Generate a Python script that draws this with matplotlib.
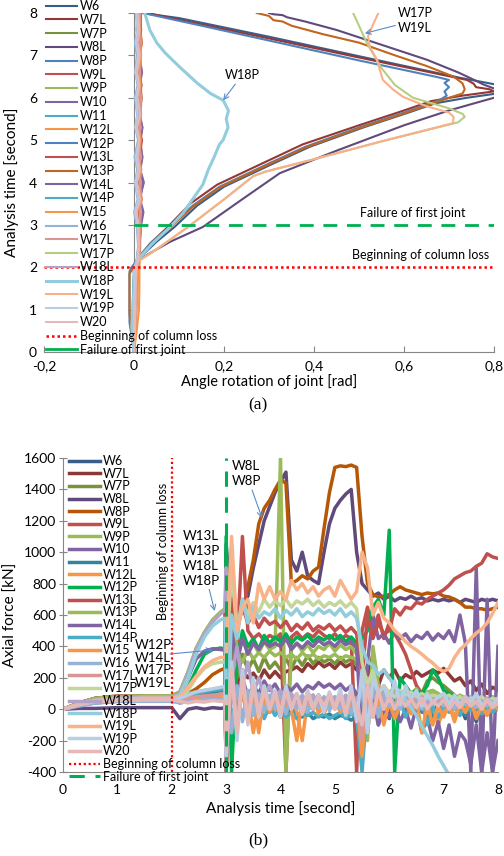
import matplotlib
matplotlib.use("Agg")
import matplotlib.pyplot as plt
from matplotlib.lines import Line2D

plt.rcParams['font.family'] = ['Lato', 'DejaVu Sans']

# ------------------------------------------------------------------ data (a)
series_names = ['W6', 'W7L', 'W7P', 'W8L', 'W8P', 'W9L', 'W9P', 'W10', 'W11', 'W12L',
                'W12P', 'W13L', 'W13P', 'W14L', 'W14P', 'W15', 'W16', 'W17L', 'W17P',
                'W18L', 'W18P', 'W19L', 'W19P', 'W20']

colors_a = ['#385D8A', '#953735', '#77933C', '#604A7B', '#4F81BD', '#C0504D', '#9BBB59',
            '#8064A2', '#4BACC6', '#F79646', '#4F81BD', '#C0504D', '#C0661E', '#8064A2',
            '#4BACC6', '#F79646', '#95B3D7', '#D99694', '#B5CF82', '#B3A2C7', '#93CDDD',
            '#F9B08A', '#B9CDE5', '#E6B9B8']

# large rotation curves (x = rotation [rad], t = time [s])
a_W6_x = [0, 0, 0.005, 0.01, 0.02, 0.05, 0.09, 0.14, 0.2, 0.31, 0.39, 0.51, 0.61, 0.67, 0.74,
          0.82, 0.82, 0.72, 0.5, 0.3, 0.1, 0.018]
a_W6_t = [0, 1.9, 2.05, 2.2, 2.3, 2.6, 2.95, 3.45, 3.9, 4.45, 4.84, 5.3, 5.65, 5.87, 6.0,
          6.12, 6.28, 6.48, 6.98, 7.44, 7.88, 8.0]
a_W7L_x = [0, 0, 0.005, 0.012, 0.035, 0.075, 0.125, 0.185, 0.295, 0.375, 0.5, 0.6, 0.66,
           0.73, 0.8, 0.79, 0.76, 0.755, 0.74, 0.5, 0.3, 0.1, 0.03]
a_W7L_t = [0, 1.9, 2.05, 2.25, 2.55, 2.95, 3.5, 3.95, 4.5, 4.9, 5.35, 5.7, 5.92, 6.05, 6.15,
           6.2, 6.25, 6.33, 6.42, 6.95, 7.4, 7.84, 8.0]
a_W8L_x = [0, 0.005, 0.01, 0.03, 0.08, 0.153, 0.24, 0.324, 0.45, 0.6, 0.7, 0.8, 0.83, 0.80,
           0.787, 0.775, 0.76, 0.72, 0.65, 0.55, 0.45, 0.38, 0.36, 0.34, 0.33, 0.31, 0.30]
a_W8L_t = [0, 2.0, 2.15, 2.3, 2.6, 2.95, 3.6, 4.22, 4.75, 5.35, 5.7, 6.0, 6.15, 6.22, 6.27,
           6.32, 6.4, 6.6, 6.9, 7.25, 7.6, 7.8, 7.85, 7.9, 7.95, 7.97, 8.0]
a_W8P_x = [0, -0.01, -0.01, -0.005, 0.005, 0.015, 0.04, 0.08, 0.13, 0.19, 0.3, 0.38, 0.5,
           0.6, 0.66, 0.68, 0.695, 0.69, 0.70, 0.69, 0.70, 0.673, 0.5, 0.3, 0.15, 0.02]
a_W8P_t = [0, 0.7, 1.9, 2.0, 2.15, 2.3, 2.6, 2.95, 3.45, 3.9, 4.45, 4.84, 5.3, 5.65, 5.87,
           5.95, 6.05, 6.15, 6.25, 6.35, 6.42, 6.49, 6.88, 7.35, 7.7, 8.0]
a_W13P_x = [0, -0.01, -0.01, 0, 0.01, 0.018, 0.042, 0.082, 0.13, 0.19, 0.3, 0.38, 0.5, 0.6,
            0.66, 0.70, 0.73, 0.735, 0.73, 0.71, 0.65, 0.58, 0.5, 0.42, 0.35, 0.33, 0.31,
            0.30, 0.273]
a_W13P_t = [0, 0.9, 1.85, 2.0, 2.15, 2.3, 2.6, 2.95, 3.42, 3.88, 4.43, 4.82, 5.28, 5.63,
            5.85, 6.0, 6.1, 6.2, 6.34, 6.5, 6.75, 7.0, 7.3, 7.5, 7.7, 7.8, 7.83, 7.93, 8.0]
a_W17P_x = [0, 0, 0.01, 0.04, 0.12, 0.2, 0.265, 0.29, 0.4, 0.55, 0.72, 0.735, 0.73, 0.70,
            0.62, 0.58, 0.55, 0.518, 0.50, 0.487]
a_W17P_t = [0, 2.0, 2.15, 2.35, 2.95, 3.6, 4.15, 4.25, 4.55, 4.97, 5.42, 5.55, 5.62, 5.75,
            6.0, 6.3, 6.7, 7.28, 7.7, 8.0]
a_W19L_x = [0, 0, 0.01, 0.04, 0.12, 0.2, 0.265, 0.29, 0.4, 0.55, 0.709, 0.71, 0.70, 0.65,
            0.598, 0.575, 0.553, 0.545, 0.54, 0.524, 0.52, 0.53, 0.543]
a_W19L_t = [0, 2.0, 2.15, 2.35, 2.95, 3.6, 4.15, 4.25, 4.55, 4.97, 5.4, 5.55, 5.65, 5.8,
            6.02, 6.2, 6.42, 6.7, 6.9, 7.2, 7.45, 7.7, 8.0]
a_W18P_x = [0, -0.005, 0, 0.005, 0.01, 0.04, 0.08, 0.109, 0.13, 0.153, 0.165, 0.176, 0.19,
            0.198, 0.209, 0.205, 0.21, 0.198, 0.17, 0.14, 0.102, 0.07, 0.051, 0.035, 0.024]
a_W18P_t = [0, 0.6, 1.5, 2.0, 2.2, 2.55, 2.95, 3.28, 3.6, 3.95, 4.3, 4.55, 4.9, 5.0, 5.3,
            5.5, 5.7, 5.94, 6.1, 6.35, 6.72, 7.05, 7.29, 7.6, 8.0]

# small rotations (near-zero cluster) on a common time base
t_cl = [0, 0.5, 1.0, 1.5, 2.0, 2.2, 2.5, 3.0, 3.3, 3.6, 4.0, 4.3, 4.6, 5.0, 5.3, 5.6, 6.0,
        6.3, 6.6, 7.0, 7.3, 7.6, 8.0]
a_W7P = [0, 0.002, 0.003, 0.004, 0.005, 0.008, 0.012, 0.015, 0.01, 0.016, 0.008, 0.014, 0.01,
         0.017, 0.009, 0.013, 0.011, 0.016, 0.008, 0.014, 0.006, 0.012, 0.01]
a_W9L = [0, 0.001, 0.002, 0.002, 0.004, 0.009, 0.013, 0.012, 0.018, 0.01, 0.016, 0.009,
         0.015, 0.011, 0.017, 0.01, 0.015, 0.009, 0.016, 0.011, 0.018, 0.012, 0.015]
a_W9P = [0, 0.001, 0.001, 0.003, 0.004, 0.01, 0.011, 0.014, 0.009, 0.013, 0.007, 0.015, 0.01,
         0.012, 0.006, 0.014, 0.009, 0.013, 0.01, 0.007, 0.012, 0.005, 0.009]
a_W10 = [0, 0.0, 0.001, 0.002, 0.003, 0.009, 0.012, 0.013, 0.02, 0.012, 0.022, 0.014, 0.019,
         0.012, 0.017, 0.011, 0.016, 0.013, 0.018, 0.012, 0.016, 0.011, 0.014]
a_W11 = [0, -0.002, -0.003, -0.002, 0, 0.007, 0.01, 0.009, 0.004, 0.012, 0.006, 0.011, 0.003,
         0.01, 0.005, 0.013, 0.004, 0.009, 0.006, 0.011, 0.005, 0.01, 0.008]
a_W12L = [0, 0.006, 0.011, 0.012, 0.012, 0.013, 0.014, 0.013, 0.015, 0.013, 0.016, 0.014,
          0.017, 0.015, 0.018, 0.014, 0.017, 0.015, 0.016, 0.014, 0.017, 0.015, 0.016]
a_W12P = [0, 0.001, 0.002, 0.002, 0.003, 0.008, 0.011, 0.011, 0.006, 0.014, 0.008, 0.012,
          0.005, 0.011, 0.007, 0.013, 0.008, 0.012, 0.006, 0.01, 0.007, 0.012, 0.009]
a_W13L = [0, 0.002, 0.003, 0.003, 0.005, 0.009, 0.013, 0.014, 0.01, 0.017, 0.011, 0.016,
          0.012, 0.018, 0.01, 0.015, 0.012, 0.017, 0.011, 0.015, 0.01, 0.016, 0.013]
a_W14L = [0, 0.001, 0.002, 0.003, 0.004, 0.009, 0.012, 0.016, 0.021, 0.014, 0.02, 0.013,
          0.018, 0.014, 0.019, 0.012, 0.017, 0.013, 0.016, 0.012, 0.015, 0.013, 0.015]
a_W14P = [0, -0.001, -0.001, 0, 0.002, 0.007, 0.01, 0.008, 0.003, 0.01, 0.004, 0.009, 0.005,
          0.01, 0.004, 0.008, 0.005, 0.009, 0.004, 0.008, 0.003, 0.009, 0.006]
a_W15 = [0, 0.003, 0.006, 0.008, 0.01, 0.012, 0.013, 0.015, 0.012, 0.017, 0.013, 0.016, 0.011,
         0.015, 0.012, 0.016, 0.013, 0.015, 0.012, 0.016, 0.013, 0.014, 0.013]
a_W16 = [0, 0.001, 0.001, 0.001, 0.002, 0.006, 0.009, 0.006, 0.0, 0.008, 0.002, 0.007, 0.001,
         0.009, 0.003, 0.007, 0.002, 0.008, 0.003, 0.006, 0.002, 0.007, 0.004]
a_W17L = [0, 0.002, 0.004, 0.004, 0.006, 0.01, 0.013, 0.012, 0.016, 0.01, 0.015, 0.009,
          0.016, 0.01, 0.015, 0.011, 0.017, 0.01, 0.014, 0.009, 0.016, 0.011, 0.014]
a_W18L = [0, 0.001, 0.001, 0.002, 0.003, 0.008, 0.01, 0.009, 0.005, 0.011, 0.004, 0.01,
          0.006, 0.012, 0.005, 0.01, 0.006, 0.011, 0.005, 0.01, 0.006, 0.009, 0.007]
a_W19P = [0, 0.0, 0.001, 0.001, 0.002, 0.007, 0.01, 0.008, 0.002, 0.01, 0.003, 0.009, 0.004,
          0.011, 0.003, 0.008, 0.004, 0.01, 0.003, 0.009, 0.004, 0.008, 0.005]
a_W20 = [0, 0.002, 0.003, 0.004, 0.005, 0.009, 0.011, 0.01, 0.006, 0.014, 0.007, 0.013,
         0.008, 0.012, 0.007, 0.014, 0.008, 0.012, 0.007, 0.013, 0.008, 0.012, 0.009]

top_curves = {
    'W6': (a_W6_x, a_W6_t), 'W7L': (a_W7L_x, a_W7L_t), 'W7P': (a_W7P, t_cl),
    'W8L': (a_W8L_x, a_W8L_t), 'W8P': (a_W8P_x, a_W8P_t), 'W9L': (a_W9L, t_cl),
    'W9P': (a_W9P, t_cl), 'W10': (a_W10, t_cl), 'W11': (a_W11, t_cl),
    'W12L': (a_W12L, t_cl), 'W12P': (a_W12P, t_cl), 'W13L': (a_W13L, t_cl),
    'W13P': (a_W13P_x, a_W13P_t), 'W14L': (a_W14L, t_cl), 'W14P': (a_W14P, t_cl),
    'W15': (a_W15, t_cl), 'W16': (a_W16, t_cl), 'W17L': (a_W17L, t_cl),
    'W17P': (a_W17P_x, a_W17P_t), 'W18L': (a_W18L, t_cl), 'W18P': (a_W18P_x, a_W18P_t),
    'W19L': (a_W19L_x, a_W19L_t), 'W19P': (a_W19P, t_cl), 'W20': (a_W20, t_cl),
}

# ------------------------------------------------------------------ data (b)
colors_b = ['#385D8A', '#8C3836', '#77933C', '#604A7B', '#B65708', '#C0504D', '#9BBB59',
            '#8064A2', '#31859C', '#F79646', '#00B050', '#C0504D', '#9BBB59', '#8064A2',
            '#4BACC6', '#F79646', '#95B3D7', '#D99694', '#C3D69B', '#B3A2C7', '#93CDDD',
            '#F9B38A', '#B9CDE5', '#E6B9B8']

t_b = [0.0, 0.3, 0.6, 1.0, 1.5,
       2.0, 2.15, 2.3, 2.45, 2.6, 2.75, 2.9, 2.98,
       3.0, 3.1, 3.2, 3.3, 3.4, 3.5, 3.6, 3.7, 3.8, 3.9,
       4.0, 4.1, 4.2, 4.3, 4.4, 4.5, 4.6, 4.7, 4.8, 4.9,
       5.0, 5.1, 5.2, 5.3, 5.4, 5.5, 5.6, 5.7, 5.8, 5.9,
       6.0, 6.1, 6.2, 6.3, 6.4, 6.5, 6.6, 6.7, 6.8, 6.9,
       7.0, 7.1, 7.2, 7.3, 7.4, 7.5, 7.6, 7.7, 7.8, 7.9, 8.0]

b_W6 = [0, 25, 40, 50, 55, 55, 50, 60, 70, 75, 80, 85, 85,
        -300, 150, -80, 120, -60, 90, -40, 110, -20, 80,
        -50, 100, 20, 70, -30, 60, 0, 90, -20, 60,
        10, 70, -30, 50, -80, 120, -150, 200, -100, 50,
        -60, 80, 20, 60, 0, 50, 10, 40, -20, 30,
        -40, 60, 0, 30, -60, 40, -80, 50, -30, 20, 0]
b_W7L = [0, 40, 70, 80, 85, 85, 80, 90, 100, 110, 120, 130, 140,
         1000, 300, 150, 250, 200, 230, 180, 250, 200, 240,
         200, 240, 250, 270, 240, 290, 260, 300, 270, 290,
         260, 300, 270, 290, 250, 300, 200, 350, 150, 250,
         200, 250, 180, 220, 200, 240, 210, 230, 250, 230,
         260, 220, 180, 200, 150, 180, 120, 160, 100, 140, 120]
b_W7P = [0, 40, 65, 75, 80, 80, 70, 80, 90, 100, 110, 120, 125,
         -400, 500, 200, 350, 250, 320, 240, 330, 260, 300,
         250, 320, 260, 330, 280, 340, 290, 330, 300, 320,
         290, 330, 300, 320, 280, 310, 0, 150, 60, 100,
         50, 80, 40, 70, 60, 90, 100, 180, 200, 170,
         150, 120, 90, 60, 80, 50, 40, 60, 30, 50, 40]
b_W8L = [0, 5, 5, 10, 10, 10, -60, 0, 10, 0, 10, 5, 10,
         1050, 600, 610, 650, 720, 900, 1050, 1200, 1290, 1380,
         1450, 1510, 950, 880, 1000, 850, 820, 800, 1000, 1180,
         1280, 1330, 1370, 1400, 1000, 800, 760, 720, 740, 700,
         720, 690, 710, 700, 720, 700, 710, 690, 700, 690,
         700, 690, 700, 680, 700, 690, 680, 700, 690, 700, 690]
b_W8P = [0, 30, 55, 65, 70, 70, 80, 100, 130, 170, 220, 250, 260,
         600, 590, 600, 620, 780, 950, 1180, 1280, 1330, 1400,
         1460, 1440, 800, 820, 850, 830, 880, 905, 1150, 1380,
         1540, 1550, 1545, 1555, 1540, 1100, 800, 730, 715, 720,
         730, 760, 780, 760, 750, 740, 730, 740, 735, 740,
         720, 715, 700, 680, 650, 650, 640, 640, 630, 640, 650]
b_W9L = [0, 40, 70, 85, 85, 85, 80, 90, 95, 90, 100, 95, 100,
         -200, 850, 400, 1100, 500, 450, 480, 440, 470, 450,
         480, -400, 460, 490, 450, 480, 460, 500, 470, 450,
         480, 440, 470, 450, -400, 500, 650, 500, 600, 450,
         550, 480, 420, 350, 250, 150, 100, 80, 60, 70,
         60, 50, 70, 40, 60, 50, 40, 60, 50, 40, 50]
b_W9P = [0, 40, 70, 80, 85, 85, 90, 100, 110, 120, 125, 130, 130,
         -400, 1030, 300, 450, 380, 420, 360, 430, 380, 400,
         1600, -400, 380, 420, 370, 410, 360, 400, 380, 420,
         370, 410, 380, 400, 350, 380, -100, 200, 100, 150,
         100, 150, 80, 120, 100, 130, 90, 110, 120, 100,
         80, 100, 60, 90, 70, 80, 50, 70, 60, 80, 60]
b_W10 = [0, 30, 50, 60, 60, 60, 40, 50, 60, 60, 70, 70, 75,
         -400, 300, 100, 200, 80, 150, 100, 180, 120, 160,
         100, 150, 120, 160, 110, 150, 130, 170, 140, 160,
         130, 160, 120, 150, 100, -300, 300, 600, 450, 480,
         420, 500, 450, 480, 430, 470, 450, 490, 440, 480,
         450, 500, 430, 600, 420, -400, 900, -400, 700, -400, 400]
b_W11 = [0, 30, 50, 60, 60, 60, 70, 80, 90, 100, 110, 120, 125,
         200, -200, 100, -50, 80, -20, 50, -40, 30, -30,
         20, -40, 0, -30, -50, -20, -60, -40, -50, -30,
         -60, -40, -50, -70, -40, -300, 0, 100, -50, 50,
         0, 50, 20, 60, 0, 40, -20, 30, -50, 20,
         -30, 40, -60, 20, -40, 30, -20, 40, -30, 20, 0]
b_W12L = [0, 30, 55, 70, 75, 75, 60, 70, 60, 80, 70, 90, 60,
          100, -100, 50, -50, 80, -150, 60, 20, 80, -20,
          50, 0, 80, -20, -200, 60, 20, 70, -30, 50,
          0, 60, -40, 30, -20, 80, -100, 50, 80, -50,
          30, -20, 50, 0, 40, -30, 60, -60, 20, -100,
          0, 40, -50, 30, -20, 50, -40, 20, -30, 40, 0]
b_W12P = [0, 30, 55, 65, 70, 70, 80, 140, 250, 350, 380, 390, 380,
          1100, -400, 300, 500, 400, 450, 380, 470, 420, 460,
          430, 480, 420, 460, 440, 470, 430, 460, 440, 470,
          440, 470, 430, 460, 420, 450, 500, 650, 700, 600,
          1140, -400, 200, 150, 100, 120, 100, 150, 250, 200,
          120, 100, 80, 60, 70, 50, 60, 40, 50, 40, 50]
b_W13L = [0, 40, 70, 80, 85, 85, 110, 230, 380, 480, 560, 610, 630,
          -400, 700, 500, 650, 550, 600, 520, 580, 540, 560,
          520, 560, 500, 540, 510, 550, 500, 530, 510, 540,
          500, 530, 490, 520, 480, 200, 600, 450, 550, 480,
          500, 640, 600, 650, 640, 680, 670, 700, 720, 740,
          760, 790, 830, 850, 870, 880, 910, 930, 990, 970, 960]
b_W13P = [0, 40, 70, 80, 85, 85, 110, 240, 390, 490, 570, 620, 640,
          800, 200, 350, 300, 380, 320, 360, 330, 370, 340,
          360, 330, 350, 320, 360, 330, 350, 320, 340, 330,
          350, 320, 340, 330, 320, 100, -200, 400, 150, 100,
          80, 120, 60, 100, 80, 110, 70, 90, 100, 80,
          60, 80, 50, 70, 40, 60, 50, 70, 40, 60, 50]
b_W14L = [0, 30, 50, 60, 65, 65, 90, 200, 320, 370, 385, 380, 375,
          -400, 500, 300, 450, 350, 420, 380, 430, 400, 420,
          400, 450, 380, 420, 390, 430, 400, 440, 410, 430,
          400, 440, 410, 430, 390, -200, 100, 50, -100, 0,
          -50, 30, -80, 0, -120, 20, -150, -50, -200, -80,
          -250, -100, -300, -150, -200, -350, -100, -400, -150, -400, -200]
b_W14P = [0, 30, 50, 60, 60, 60, 70, 90, 100, 110, 120, 125, 130,
          500, -100, 100, -50, 60, -30, 40, -60, 20, -40,
          0, -50, -20, -60, -30, -40, -20, -50, -30, -60,
          -40, -20, -60, -30, -50, -400, 50, -20, 80, 0,
          40, -30, 60, -50, 30, 0, 50, -100, 20, -50,
          30, -20, 50, -40, 20, -10, 40, -30, 20, -20, 10]
b_W15 = [0, 30, 50, 60, 60, 60, 50, 55, 60, 70, 60, 65, 60,
         -300, 200, -100, 120, -50, 80, -150, 100, -20, 60,
         -50, 100, 0, -200, 80, 20, 90, -30, 60, 10,
         70, -20, 50, 0, 60, -300, 100, -50, 60, -100,
         50, -60, 20, 40, -30, 60, -150, 30, -100, 20,
         -50, 30, -80, 40, -20, 60, -60, 20, -40, 30, 0]
b_W16 = [0, 20, 40, 50, 50, 50, 40, 50, 55, 60, 60, 65, 70,
         200, -150, 150, -80, 120, -40, 100, -20, 90, 0,
         80, -30, 70, 0, 90, -20, 60, 10, 80, -10,
         60, 0, 80, -30, 70, 100, -100, 150, -50, 100,
         20, 100, 0, 80, 20, 60, 0, 70, 30, 60,
         20, 70, 0, 60, 30, 80, 10, 60, 20, 70, 40]
b_W17L = [0, 30, 50, 60, 65, 65, 60, 70, 80, 85, 90, 95, 100,
          -400, 300, -100, 200, 0, 150, 20, 120, 40, 100,
          30, 120, 50, 100, 20, 110, 40, 90, 30, 100,
          40, 110, 20, 90, 50, -200, 200, -50, 150, 0,
          100, 20, 80, 40, 90, 30, 70, 20, 80, 40,
          90, 30, 70, 20, 80, 40, 90, 30, 70, 40, 60]
b_W17P = [0, 35, 60, 70, 75, 75, 70, 120, 200, 260, 290, 300, 300,
          300, 900, 500, 700, 600, 680, 620, 700, 650, 690,
          660, 700, 650, 690, 670, 700, 660, 690, 650, 680,
          660, 690, 650, 680, 640, 300, 150, 250, 100, 150,
          100, 80, 120, 90, 110, 80, 100, 70, 90, 80,
          70, 90, 60, 80, 50, 70, 60, 80, 50, 70, 60]
b_W18L = [0, 35, 60, 70, 75, 75, 100, 230, 380, 480, 560, 610, 630,
          900, 200, 400, 150, 300, 100, 200, 80, 150, 60,
          120, 40, 100, 20, 80, 40, 90, 30, 70, 50,
          80, 30, 90, 40, 70, -100, 150, 0, 100, 40,
          80, 30, 70, 20, 60, 30, 80, 40, 60, 30,
          70, 20, 60, 30, 80, 40, 60, 20, 70, 30, 50]
b_W18P = [0, 30, 55, 65, 70, 70, 90, 200, 350, 460, 530, 570, 580,
          -300, 600, 450, 700, 550, 650, 580, 620, 600, 640,
          580, 630, 600, 640, 590, 620, 600, 640, 610, 630,
          600, 640, 590, 620, 580, 400, 300, 280, 220, 250,
          200, 150, 100, 60, 10, -40, -110, -170, -230, -300,
          -360, -420, -450, -460, -470, -470, -470, -470, -470, -470, -470]
b_W19L = [0, 35, 55, 65, 70, 70, 80, 140, 210, 270, 310, 330, 330,
          330, 1100, 500, 650, 700, 550, 800, 700, 780, 700,
          750, 700, 820, 760, 800, 740, 780, 720, 760, 780,
          720, 820, 760, 700, 750, 1000, 900, 600, 680, 580,
          550, 500, 470, 430, 400, 377, 350, 320, 294, 260,
          240, 260, 330, 380, 410, 450, 485, 510, 550, 610, 680]
b_W19P = [0, 30, 50, 60, 60, 60, 70, 90, 110, 120, 130, 140, 145,
          -300, 300, -200, 250, -100, 200, -50, 150, 0, 120,
          -50, 150, 0, 100, -30, 120, 10, 90, -20, 110,
          0, 130, -40, 150, -80, 250, -150, 200, 100, 150,
          50, 180, 30, 150, 60, 120, 20, 100, 40, 80,
          100, 30, 90, 20, 80, 40, 100, 20, 60, 30, 70]
b_W20 = [0, 30, 50, 55, 60, 60, 50, 40, 50, 45, 55, 50, 50,
         -250, 250, -150, 200, -80, 150, -30, 120, 0, 100,
         -20, 110, 10, 90, -30, 100, 0, 80, 20, 90,
         0, 90, -20, 100, 10, -100, 150, -50, 120, 0,
         80, 0, 70, 20, 60, 10, 70, 0, 50, 20,
         60, 0, 50, 10, 70, 20, 50, 0, 60, 10, 40]

bottom_vals = [b_W6, b_W7L, b_W7P, b_W8L, b_W8P, b_W9L, b_W9P, b_W10, b_W11, b_W12L, b_W12P,
               b_W13L, b_W13P, b_W14L, b_W14P, b_W15, b_W16, b_W17L, b_W17P, b_W18L, b_W18P,
               b_W19L, b_W19P, b_W20]

x_ticks_a = [-0.2, 0, 0.2, 0.4, 0.6, 0.8]
x_ticklabels_a = ['-0,2', '0', '0,2', '0,4', '0,6', '0,8']
y_ticks_a = [0, 1, 2, 3, 4, 5, 6, 7, 8]
x_ticks_b = [0, 1, 2, 3, 4, 5, 6, 7, 8]
y_ticks_b = [-400, -200, 0, 200, 400, 600, 800, 1000, 1200, 1400, 1600]

column_loss_t = 2.0
first_failure_t = 3.0

# ------------------------------------------------------------------ figure
fig = plt.figure(figsize=(5.04, 8.56), dpi=100)
axcol = '#868686'
RED = '#FF0000'
GREEN = '#00B050'

# ---------- (a)
ax1 = fig.add_axes([44 / 504, 1 - 352 / 856, 450 / 504, 339 / 856])
handles = []
for name, col in zip(series_names, colors_a):
    xs, ts = top_curves[name]
    lw = 2.2 if name == 'W18P' else 1.5
    h, = ax1.plot(xs, ts, color=col, lw=lw, label=name, solid_joinstyle='round')
    handles.append(h)
ax1.plot([-0.2, 0.8], [column_loss_t] * 2, color=RED, lw=1.8, ls=(0, (1, 1.2)))
ax1.plot([0, 0.8], [first_failure_t] * 2, color=GREEN, lw=2, ls=(0, (5, 3.5)))
handles.append(Line2D([], [], color=RED, lw=1.8, ls=(0, (1, 1.2))))
handles.append(Line2D([], [], color=GREEN, lw=2))
labels_a = series_names + ['Beginning of column loss', 'Failure of first joint']

# y axis drawn at x = 0 (Excel style)
ax1.plot([0, 0], [0, 8], color=axcol, lw=0.8, zorder=0.5)
ax1.plot([0] * len(y_ticks_a), y_ticks_a, ls='none', marker=0, ms=4, mew=0.8,
         color=axcol, zorder=0.5)

ax1.set_xlim(-0.2, 0.8)
ax1.set_ylim(0, 8)
for s in ['top', 'right', 'left']:
    ax1.spines[s].set_visible(False)
ax1.spines['bottom'].set_color(axcol)
ax1.set_xticks(x_ticks_a)
ax1.set_xticklabels(x_ticklabels_a, fontsize=10)
ax1.set_yticks(y_ticks_a)
ax1.set_yticklabels([str(v) for v in y_ticks_a], fontsize=10)
ax1.tick_params(axis='x', direction='in', length=4, color=axcol, pad=6)
ax1.tick_params(axis='y', length=0, pad=5)
ax1.set_xlabel('Angle rotation of joint [rad]', fontsize=10.5, labelpad=1)
ax1.set_ylabel('Analysis time [second]', fontsize=11)
ax1.yaxis.set_label_coords((19 - 44) / 450, 0.5)

leg1 = ax1.legend(handles, labels_a, loc='upper left', bbox_to_anchor=(46 / 504, 1 - 0 / 856),
                  bbox_transform=fig.transFigure, frameon=False, fontsize=9,
                  handlelength=2.5, handletextpad=0.2, labelspacing=0.14, borderpad=0,
                  borderaxespad=0)

ax1.text(0.62, 3.28, 'Failure of first joint', fontsize=9, ha='center', va='center')
ax1.text(0.636, 2.29, 'Beginning of column loss', fontsize=9, ha='center', va='center')
arrow = dict(arrowstyle='->', color='#5B8CC8', lw=0.8, shrinkA=0, shrinkB=0)
ax1.annotate('W18P', xy=(0.198, 5.94), xytext=(0.24, 6.53), fontsize=9,
             ha='center', va='center', arrowprops=arrow)
ax1.annotate('W17P\nW19L', xy=(0.513, 7.52), xytext=(0.587, 7.83), fontsize=9,
             ha='left', va='center', linespacing=1.3, arrowprops=arrow)

fig.text(258 / 504, 1 - 405 / 856, '(a)', family='Liberation Serif', fontsize=12.5,
         ha='center', va='center')

# ---------- (b)
ax2 = fig.add_axes([63 / 504, 1 - 772 / 856, 435 / 504, 314 / 856])
for name, col, vals in zip(series_names, colors_b, bottom_vals):
    ax2.plot(t_b, vals, color=col, lw=2.5, label=name, solid_joinstyle='round')
ax2.plot([column_loss_t] * 2, [-400, 1600], color=RED, lw=1.6, ls=(0, (1, 1.2)),
         label='Beginning of column loss')
ax2.plot([first_failure_t] * 2, [-400, 1600], color=GREEN, lw=2.2, ls=(0, (5, 3.5)),
         label='Failure of first joint')

ax2.set_xlim(0, 8)
ax2.set_ylim(-400, 1600)
for s in ['top', 'right']:
    ax2.spines[s].set_visible(False)
for s in ['left', 'bottom']:
    ax2.spines[s].set_color(axcol)
ax2.set_xticks(x_ticks_b)
ax2.set_xticklabels([str(v) for v in x_ticks_b], fontsize=10)
ax2.set_yticks(y_ticks_b)
ax2.set_yticklabels([str(v) for v in y_ticks_b], fontsize=10)
ax2.tick_params(axis='y', direction='inout', length=6, color=axcol, pad=2)
ax2.tick_params(axis='x', length=0, pad=9)
ax2.set_xlabel('Analysis time [second]', fontsize=11, labelpad=3)
ax2.set_ylabel('Axial force [kN]', fontsize=11)
ax2.yaxis.set_label_coords((18 - 63) / 435, 0.5)

ax2.legend(loc='upper left', bbox_to_anchor=(69 / 504, 1 - 455 / 856),
           bbox_transform=fig.transFigure, frameon=False, fontsize=9,
           handlelength=2.5, handletextpad=0.2, labelspacing=0.05, borderpad=0,
           borderaxespad=0)

ax2.text(1.84, 1008, 'Beginning of column loss', rotation=90, fontsize=9,
         ha='center', va='center')
ax2.annotate('W8L\nW8P', xy=(3.66, 1218), xytext=(3.1, 1500), fontsize=9.5,
             ha='left', va='center', linespacing=1.3, arrowprops=arrow)
ax2.annotate('W13L\nW13P\nW18L\nW18P', xy=(2.79, 625), xytext=(2.2, 963), fontsize=9.5,
             ha='left', va='center', linespacing=1.3, arrowprops=arrow)
ax2.annotate('', xy=(2.76, 377), xytext=(1.97, 352), arrowprops=arrow)
ax2.text(1.32, 288, 'W12P\nW14L\nW17P\nW19L', fontsize=9.5, ha='left', va='center',
         linespacing=1.05)

fig.text(258 / 504, 1 - 840 / 856, '(b)', family='Liberation Serif', fontsize=12.5,
         ha='center', va='center')

fig.savefig('out.png', dpi=100)
